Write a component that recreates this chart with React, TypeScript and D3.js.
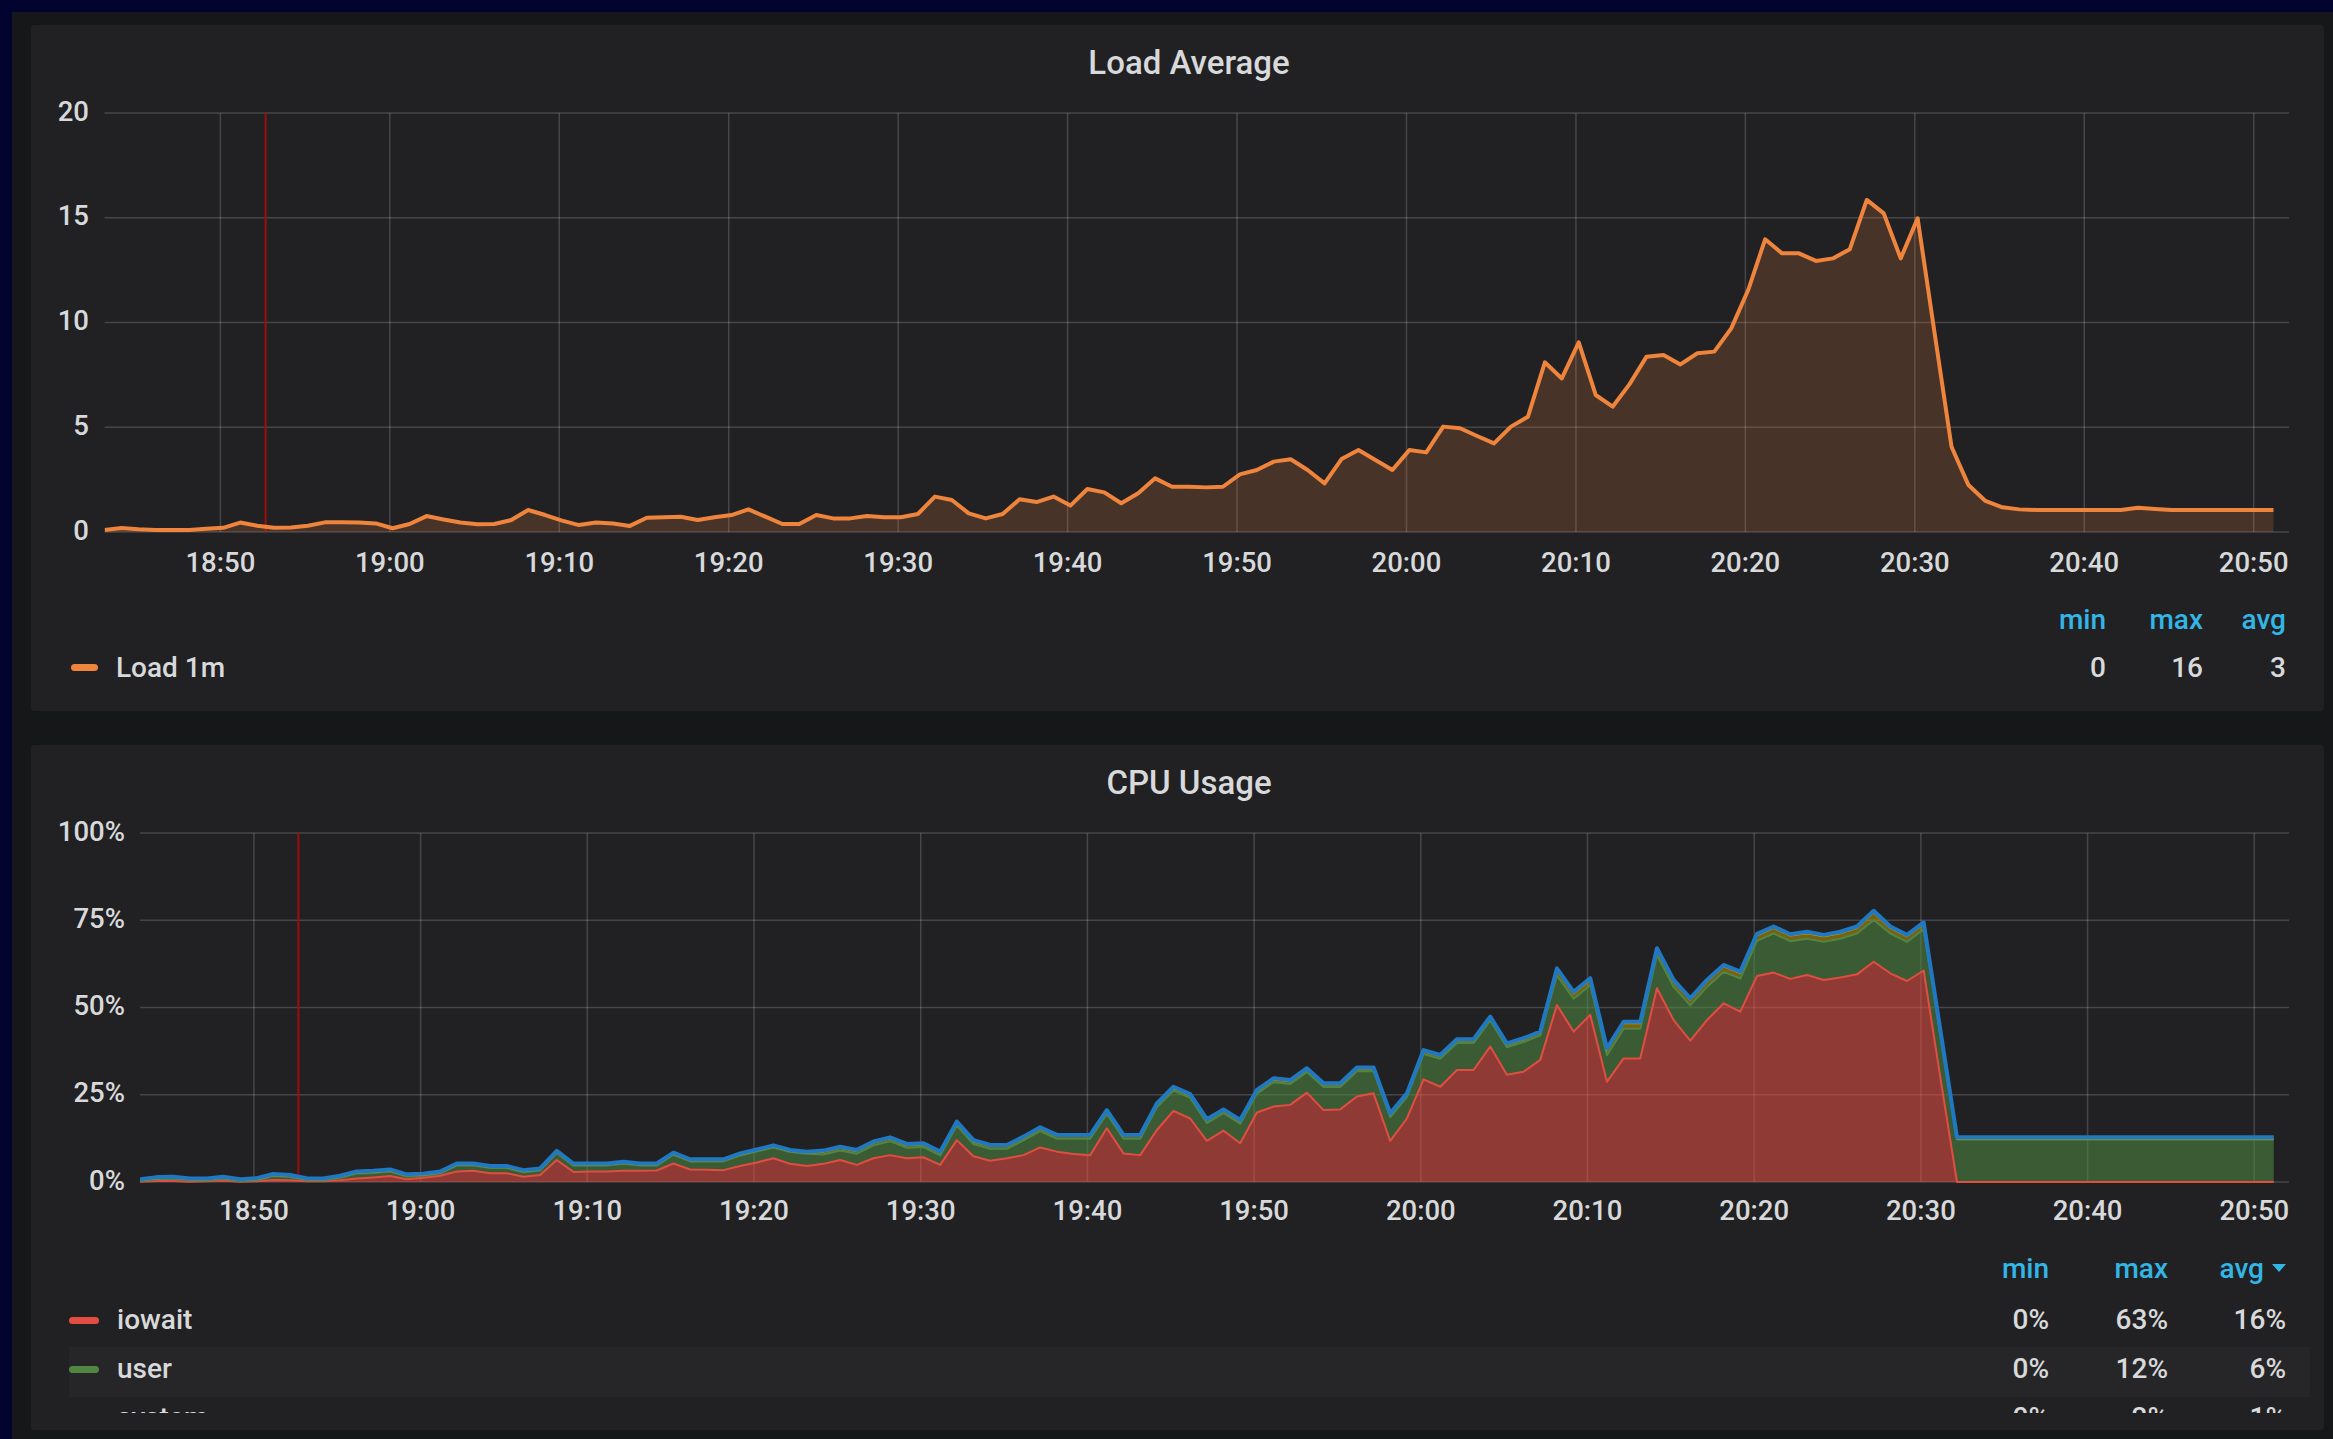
import React from "react";
import * as d3 from "d3";

const W = 2333;
const H = 1439;

// time range (minutes sampled every 1 min)
const START = new Date(2020, 0, 1, 18, 43, 10);
const END = new Date(2020, 0, 1, 20, 52, 5);
const MARKER = new Date(2020, 0, 1, 18, 52, 40);

const loadTicks = [0, 5, 10, 15, 20];
const cpuTicks = [0, 25, 50, 75, 100];

const load1m = [
  0.1, 0.19, 0.13, 0.1, 0.1, 0.1, 0.16, 0.2, 0.45, 0.3,
  0.2, 0.22, 0.3, 0.46, 0.46, 0.45, 0.41, 0.18, 0.38, 0.76,
  0.6, 0.45, 0.37, 0.38, 0.57, 1.05, 0.81, 0.54, 0.33, 0.45,
  0.41, 0.29, 0.68, 0.7, 0.73, 0.57, 0.7, 0.81, 1.08, 0.73,
  0.38, 0.38, 0.81, 0.65, 0.65, 0.76, 0.7, 0.7, 0.86, 1.69,
  1.53, 0.89, 0.65, 0.86, 1.56, 1.43, 1.69, 1.26, 2.05, 1.89,
  1.37, 1.85, 2.56, 2.16, 2.16, 2.13, 2.16, 2.75, 2.96, 3.36,
  3.47, 2.96, 2.32, 3.48, 3.91, 3.44, 2.96, 3.91, 3.8, 5.03,
  4.95, 4.58, 4.23, 5.03, 5.5, 8.1, 7.33, 9.05, 6.54, 5.98,
  7.06, 8.37, 8.45, 8.0, 8.53, 8.61, 9.72, 11.55, 13.97, 13.3,
  13.3, 12.94, 13.06, 13.5, 15.85, 15.21, 13.06, 14.97, 9.5, 4.07,
  2.24, 1.48, 1.18, 1.08, 1.05, 1.05, 1.05, 1.05, 1.05, 1.05,
  1.16, 1.1, 1.05, 1.05, 1.05, 1.05, 1.05, 1.05, 1.05,
];

const iowait = [
  0.1, 0.3, 0.3, 0.1, 0.2, 0.4, 0.1, 0.2, 0.6, 0.5,
  0.2, 0.2, 0.5, 1.0, 1.3, 1.7, 0.8, 1.2, 1.8, 3.0,
  3.2, 2.5, 2.5, 1.5, 2.0, 6.3, 2.9, 3.0, 3.0, 3.2,
  3.2, 3.3, 5.3, 3.6, 3.5, 3.4, 4.6, 5.6, 6.8, 5.2,
  4.6, 5.2, 6.3, 4.9, 6.8, 7.7, 6.8, 7.1, 4.9, 12.0,
  7.4, 6.1, 6.8, 7.7, 9.9, 8.7, 8.0, 7.7, 15.4, 8.2,
  7.7, 14.9, 20.4, 18.2, 11.8, 14.7, 11.1, 19.9, 21.6, 22.1,
  25.6, 20.6, 20.8, 24.5, 25.4, 11.8, 18.2, 29.4, 27.3, 32.1,
  32.1, 38.8, 30.7, 31.6, 35.0, 50.7, 43.1, 47.9, 28.7, 35.4,
  35.4, 55.5, 46.4, 40.5, 46.4, 51.2, 48.8, 59.0, 60.0, 58.2,
  59.3, 57.9, 58.6, 59.5, 63.1, 59.8, 57.6, 60.6, 30.0, 0,
  0, 0, 0, 0, 0, 0, 0, 0, 0, 0,
  0, 0, 0, 0, 0, 0, 0, 0, 0,
];

const user = [
  0.1, 0.5, 0.6, 0.3, 0.2, 0.5, 0.1, 0.3, 1.1, 0.9,
  0.3, 0.2, 0.7, 1.4, 1.3, 1.3, 0.8, 0.6, 0.6, 1.7,
  1.5, 1.5, 1.5, 1.3, 1.3, 2.0, 1.8, 1.7, 1.7, 2.0,
  1.5, 1.4, 2.5, 2.3, 2.4, 2.5, 3.0, 3.1, 3.1, 3.4,
  3.5, 2.7, 2.7, 3.2, 3.7, 4.0, 3.0, 2.9, 2.7, 4.2,
  3.5, 3.4, 2.7, 4.2, 4.7, 3.7, 4.4, 4.7, 4.1, 4.2,
  4.7, 6.5, 5.8, 5.9, 5.1, 5.0, 5.6, 5.4, 7.0, 6.0,
  5.9, 6.6, 6.4, 7.2, 6.3, 6.8, 6.1, 7.3, 8.0, 7.7,
  7.7, 7.5, 7.9, 8.5, 7.0, 8.5, 9.4, 8.5, 7.6, 8.5,
  8.5, 9.5, 9.5, 10.1, 9.5, 9.0, 9.5, 10.1, 11.2, 10.8,
  10.4, 10.9, 11.1, 11.7, 12.0, 11.4, 11.2, 11.8, 12.0, 12.2,
  12.2, 12.2, 12.2, 12.2, 12.2, 12.2, 12.2, 12.2, 12.2, 12.2,
  12.2, 12.2, 12.2, 12.2, 12.2, 12.2, 12.2, 12.2, 12.2,
];

const system = [
  0.3, 0.3, 0.3, 0.3, 0.3, 0.3, 0.3, 0.3, 0.3, 0.3,
  0.3, 0.3, 0.3, 0.3, 0.3, 0.3, 0.3, 0.3, 0.3, 0.3,
  0.3, 0.3, 0.3, 0.3, 0.3, 0.3, 0.3, 0.3, 0.3, 0.3,
  0.3, 0.3, 0.3, 0.3, 0.3, 0.3, 0.3, 0.3, 0.3, 0.3,
  0.3, 0.8, 0.8, 0.8, 0.8, 0.8, 0.8, 0.8, 0.8, 0.8,
  0.8, 0.8, 0.8, 0.8, 0.8, 0.8, 0.8, 0.8, 0.8, 0.8,
  0.8, 0.8, 0.8, 0.8, 0.8, 0.8, 0.8, 0.8, 0.8, 0.8,
  0.8, 0.8, 0.8, 0.8, 0.8, 0.8, 0.8, 0.8, 0.8, 0.8,
  0.8, 0.8, 0.8, 0.8, 0.8, 1.6, 1.6, 1.6, 1.6, 1.6,
  1.6, 1.6, 1.6, 1.6, 1.6, 1.6, 1.6, 1.6, 1.6, 1.6,
  1.6, 1.6, 1.6, 1.6, 2.2, 1.6, 1.6, 1.6, 1.3, 0.3,
  0.3, 0.3, 0.3, 0.3, 0.3, 0.3, 0.3, 0.3, 0.3, 0.3,
  0.3, 0.3, 0.3, 0.3, 0.3, 0.3, 0.3, 0.3, 0.3,
];

const softirq = [
  0.3, 0.3, 0.3, 0.3, 0.3, 0.3, 0.3, 0.3, 0.3, 0.3,
  0.3, 0.3, 0.3, 0.3, 0.3, 0.3, 0.3, 0.3, 0.3, 0.3,
  0.3, 0.3, 0.3, 0.3, 0.3, 0.3, 0.3, 0.3, 0.3, 0.3,
  0.3, 0.3, 0.3, 0.3, 0.3, 0.3, 0.3, 0.3, 0.3, 0.3,
  0.3, 0.3, 0.3, 0.3, 0.3, 0.3, 0.3, 0.3, 0.3, 0.3,
  0.3, 0.3, 0.3, 0.3, 0.3, 0.3, 0.3, 0.3, 0.3, 0.3,
  0.3, 0.3, 0.3, 0.3, 0.3, 0.3, 0.3, 0.3, 0.3, 0.3,
  0.3, 0.3, 0.3, 0.3, 0.3, 0.3, 0.3, 0.3, 0.3, 0.3,
  0.3, 0.3, 0.3, 0.3, 0.3, 0.4, 0.4, 0.4, 0.4, 0.4,
  0.4, 0.4, 0.4, 0.4, 0.4, 0.4, 0.4, 0.4, 0.4, 0.4,
  0.4, 0.4, 0.4, 0.4, 0.4, 0.4, 0.4, 0.4, 0.3, 0.3,
  0.3, 0.3, 0.3, 0.3, 0.3, 0.3, 0.3, 0.3, 0.3, 0.3,
  0.3, 0.3, 0.3, 0.3, 0.3, 0.3, 0.3, 0.3, 0.3,
];

const cpuSeries = [
  { key: "iowait", values: iowait, line: "#E24D42", fill: "rgba(226,77,66,0.58)", width: 2 },
  { key: "user", values: user, line: "#508642", fill: "rgba(80,134,66,0.58)", width: 2 },
  { key: "system", values: system, line: "#CCA300", fill: "rgba(204,163,0,0.5)", width: 2 },
  { key: "softirq", values: softirq, line: "#1F78C1", fill: "rgba(31,120,193,0.5)", width: 4 },
];

const loadLegend = [{ name: "Load 1m", color: "#EF843C", min: "0", max: "16", avg: "3" }];
const cpuLegend = [
  { name: "iowait", color: "#E24D42", min: "0%", max: "63%", avg: "16%" },
  { name: "user", color: "#508642", min: "0%", max: "12%", avg: "6%" },
  { name: "system", color: "#CCA300", min: "0%", max: "2%", avg: "1%" },
];

const FONT = "Roboto, 'Noto Sans', sans-serif";
const TEXT = "#d8d9da";
const GRID = "rgba(255,255,255,0.17)";
const BLUE = "#33b5e5";

export default function App() {
  const times = load1m.map((_, i) => new Date(START.getTime() + i * 60000));
  const fmt = d3.timeFormat("%H:%M");

  // ---- top chart scales
  const xT = d3.scaleTime().domain([START, END]).range([104.6, 2289]);
  const yT = d3.scaleLinear().domain([0, 20]).range([532, 113]);
  const xTicksT = xT.ticks(d3.timeMinute.every(10)!);

  const loadArea = d3
    .area<number>()
    .x((_, i) => xT(times[i]))
    .y0(yT(0))
    .y1((d) => yT(d));
  const loadLine = d3
    .line<number>()
    .x((_, i) => xT(times[i]))
    .y((d) => yT(d));

  // ---- bottom chart scales
  const xB = d3.scaleTime().domain([START, END]).range([140, 2289]);
  const yB = d3.scaleLinear().domain([0, 100]).range([1182, 833]);
  const xTicksB = xB.ticks(d3.timeMinute.every(10)!);

  const rows = times.map((t, i) => {
    const r: any = { t };
    cpuSeries.forEach((s) => (r[s.key] = s.values[i]));
    return r;
  });
  const stacked = d3.stack<any>().keys(cpuSeries.map((s) => s.key))(rows);
  const cpuArea = d3
    .area<any>()
    .x((d) => xB(d.data.t))
    .y0((d) => yB(d[0]))
    .y1((d) => yB(d[1]));
  const cpuLine = d3
    .line<any>()
    .x((d) => xB(d.data.t))
    .y((d) => yB(d[1]));

  const tick = { fontSize: 27.5, fontWeight: 500, fill: TEXT } as const;
  const leg = { fontSize: 28, fontWeight: 500, fill: TEXT } as const;
  const head = { fontSize: 28, fontWeight: 500, fill: BLUE } as const;

  return (
    <div style={{ position: "fixed", left: 0, top: 0, width: W, height: H }}>
      <svg width={W} height={H} style={{ display: "block", fontFamily: FONT }}>
        <defs>
          <clipPath id="legclip">
            <rect x={40} y={1240} width={2290} height={173} />
          </clipPath>
          <clipPath id="plotT">
            <rect x={104.6} y={100} width={2184.4} height={440} />
          </clipPath>
          <clipPath id="plotB">
            <rect x={140} y={820} width={2149} height={370} />
          </clipPath>
        </defs>
        <rect x={0} y={0} width={W} height={H} fill="#03032f" />
        <rect x={12} y={12} width={W - 12} height={H - 12} fill="#161719" />

        {/* ---------- TOP PANEL ---------- */}
        <rect x={31} y={25} width={2293} height={686} fill="#212124" rx={3} />
        <text x={1189} y={62} textAnchor="middle" dominantBaseline="central" fontSize={33} fontWeight={500} fill={TEXT}>
          Load Average
        </text>
        {loadTicks.map((v) => (
          <g key={"ly" + v}>
            <line x1={104.6} x2={2289} y1={yT(v)} y2={yT(v)} stroke={GRID} strokeWidth={1.5} />
            <text x={89} y={yT(v) - 2} textAnchor="end" dominantBaseline="central" {...tick}>
              {v}
            </text>
          </g>
        ))}
        {xTicksT.map((t) => (
          <g key={"lx" + t.getTime()}>
            <line x1={xT(t)} x2={xT(t)} y1={113} y2={532} stroke={GRID} strokeWidth={1.5} />
            <text x={xT(t)} y={562} textAnchor="middle" dominantBaseline="central" {...tick}>
              {fmt(t)}
            </text>
          </g>
        ))}
        <line x1={xT(MARKER)} x2={xT(MARKER)} y1={113} y2={532} stroke="#a00d0d" strokeWidth={2} />
        <g clipPath="url(#plotT)">
          <path d={loadArea(load1m) || ""} fill="rgba(239,132,60,0.19)" />
          <path d={loadLine(load1m) || ""} fill="none" stroke="#EF843C" strokeWidth={4} strokeLinejoin="round" />
        </g>
        {/* legend top */}
        <text x={2106} y={619} textAnchor="end" dominantBaseline="central" {...head}>min</text>
        <text x={2203} y={619} textAnchor="end" dominantBaseline="central" {...head}>max</text>
        <text x={2286} y={619} textAnchor="end" dominantBaseline="central" {...head}>avg</text>
        {loadLegend.map((l) => (
          <g key={l.name}>
            <rect x={71} y={664} width={27} height={7} rx={3.5} fill={l.color} />
            <text x={116} y={667} dominantBaseline="central" {...leg}>{l.name}</text>
            <text x={2106} y={667} textAnchor="end" dominantBaseline="central" {...leg}>{l.min}</text>
            <text x={2203} y={667} textAnchor="end" dominantBaseline="central" {...leg}>{l.max}</text>
            <text x={2286} y={667} textAnchor="end" dominantBaseline="central" {...leg}>{l.avg}</text>
          </g>
        ))}

        {/* ---------- BOTTOM PANEL ---------- */}
        <rect x={31} y={745} width={2293} height={685} fill="#212124" rx={3} />
        <text x={1189} y={782} textAnchor="middle" dominantBaseline="central" fontSize={33} fontWeight={500} fill={TEXT}>
          CPU Usage
        </text>
        {cpuTicks.map((v) => (
          <g key={"cy" + v}>
            <line x1={140} x2={2289} y1={yB(v)} y2={yB(v)} stroke={GRID} strokeWidth={1.5} />
            <text x={125} y={yB(v) - 2} textAnchor="end" dominantBaseline="central" {...tick}>
              {v + "%"}
            </text>
          </g>
        ))}
        {xTicksB.map((t) => (
          <g key={"cx" + t.getTime()}>
            <line x1={xB(t)} x2={xB(t)} y1={833} y2={1182} stroke={GRID} strokeWidth={1.5} />
            <text x={xB(t)} y={1210} textAnchor="middle" dominantBaseline="central" {...tick}>
              {fmt(t)}
            </text>
          </g>
        ))}
        <line x1={xB(MARKER)} x2={xB(MARKER)} y1={833} y2={1182} stroke="#a00d0d" strokeWidth={2} />
        <g clipPath="url(#plotB)">
          {stacked.map((s, k) => (
            <path key={"a" + s.key} d={cpuArea(s) || ""} fill={cpuSeries[k].fill} />
          ))}
          {stacked.map((s, k) => (
            <path
              key={"l" + s.key}
              d={cpuLine(s) || ""}
              fill="none"
              stroke={cpuSeries[k].line}
              strokeWidth={cpuSeries[k].width}
              strokeLinejoin="round"
            />
          ))}
        </g>
        {/* legend bottom */}
        <text x={2049} y={1268} textAnchor="end" dominantBaseline="central" {...head}>min</text>
        <text x={2168} y={1268} textAnchor="end" dominantBaseline="central" {...head}>max</text>
        <text x={2264} y={1268} textAnchor="end" dominantBaseline="central" {...head}>avg</text>
        <path d="M2272,1264 L2286,1264 L2279,1272 Z" fill={BLUE} />
        <g clipPath="url(#legclip)">
          {cpuLegend.map((l, k) => {
            const cy = 1319 + k * 49;
            return (
              <g key={l.name}>
                {k % 2 === 1 && <rect x={69} y={cy - 21} width={2241} height={50} fill="#262629" />}
                <rect x={69} y={cy - 2} width={30} height={7} rx={3.5} fill={l.color} />
                <text x={117} y={cy} dominantBaseline="central" {...leg}>{l.name}</text>
                <text x={2049} y={cy} textAnchor="end" dominantBaseline="central" {...leg}>{l.min}</text>
                <text x={2168} y={cy} textAnchor="end" dominantBaseline="central" {...leg}>{l.max}</text>
                <text x={2286} y={cy} textAnchor="end" dominantBaseline="central" {...leg}>{l.avg}</text>
              </g>
            );
          })}
        </g>
      </svg>
    </div>
  );
}
